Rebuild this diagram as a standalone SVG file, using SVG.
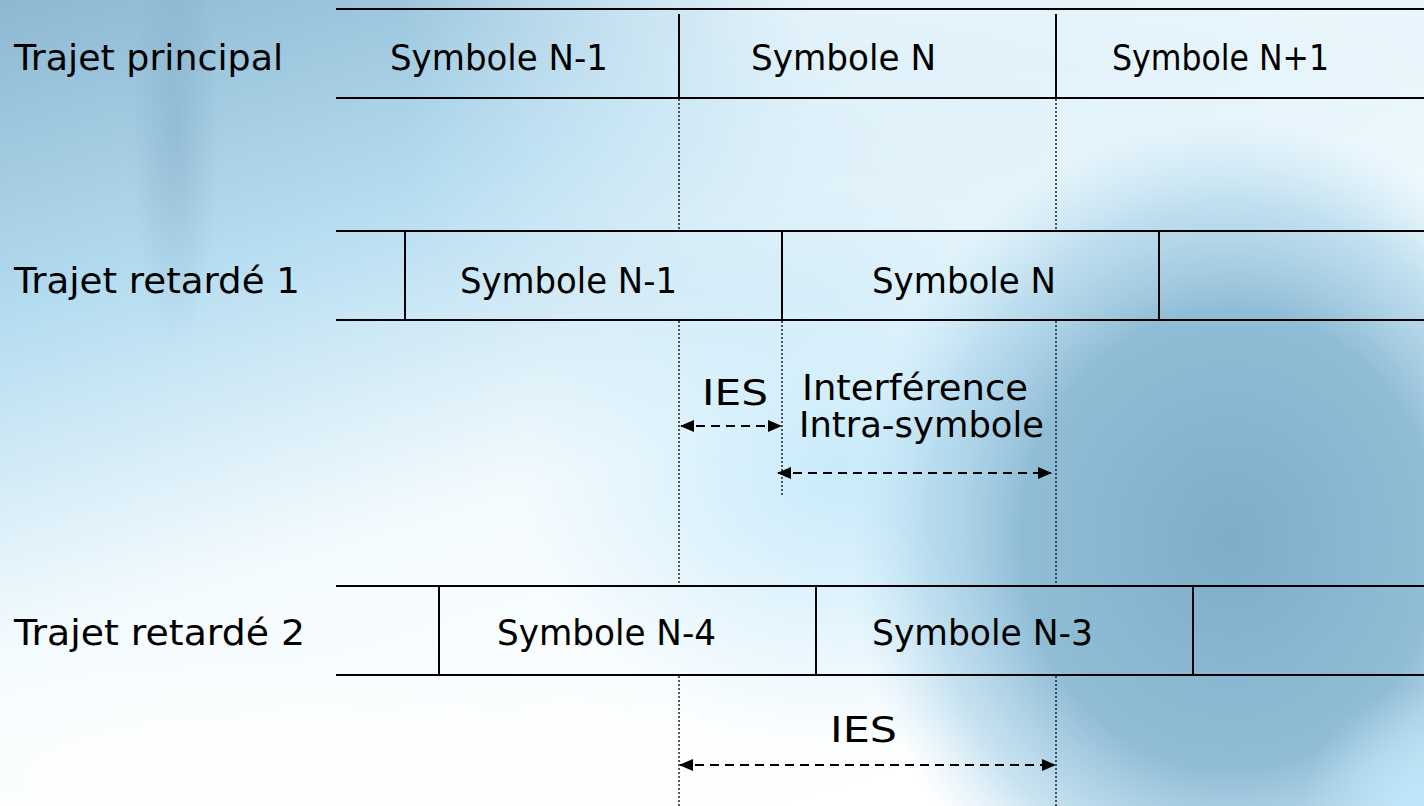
<svg xmlns="http://www.w3.org/2000/svg" width="1424" height="806" viewBox="0 0 1424 806">
<defs>
<linearGradient id="bgBase" x1="0" y1="0" x2="0.55" y2="1">
<stop offset="0" stop-color="#8db8d1"/>
<stop offset="0.3" stop-color="#b4dcf0"/>
<stop offset="0.62" stop-color="#f4fbfe"/>
<stop offset="1" stop-color="#ffffff"/>
</linearGradient>
<linearGradient id="bgTopRight" x1="0" y1="0" x2="0" y2="1">
<stop offset="0" stop-color="#eef8fd" stop-opacity="0.85"/>
<stop offset="0.7" stop-color="#eef8fd" stop-opacity="0.5"/>
<stop offset="1" stop-color="#eef8fd" stop-opacity="0"/>
</linearGradient>
<linearGradient id="bgTopRightH" x1="0" y1="0" x2="1" y2="0">
<stop offset="0" stop-color="#fff" stop-opacity="0"/>
<stop offset="0.4" stop-color="#fff" stop-opacity="1"/>
<stop offset="1" stop-color="#fff" stop-opacity="1"/>
</linearGradient>
<mask id="trMask"><rect x="400" y="0" width="1024" height="320" fill="url(#bgTopRightH)"/></mask>
<radialGradient id="sphere" cx="0.5" cy="0.5" r="0.5">
<stop offset="0" stop-color="#7eadc8"/>
<stop offset="0.55" stop-color="#8bbad4" stop-opacity="0.95"/>
<stop offset="0.8" stop-color="#a3cfe6" stop-opacity="0.6"/>
<stop offset="1" stop-color="#b5ddf1" stop-opacity="0"/>
</radialGradient>
<radialGradient id="glowMid" cx="0.5" cy="0.5" r="0.5">
<stop offset="0" stop-color="#bde6fa"/>
<stop offset="1" stop-color="#bde6fa" stop-opacity="0"/>
</radialGradient>
<radialGradient id="whiteBL" cx="0.5" cy="0.5" r="0.5">
<stop offset="0" stop-color="#ffffff" stop-opacity="0.9"/>
<stop offset="1" stop-color="#ffffff" stop-opacity="0"/>
</radialGradient>
<radialGradient id="streak" cx="0.5" cy="0.4" r="0.5">
<stop offset="0" stop-color="#7fa9c3" stop-opacity="0.45"/>
<stop offset="1" stop-color="#7fa9c3" stop-opacity="0"/>
</radialGradient>
<marker id="ah" markerWidth="14" markerHeight="12" refX="13" refY="6" orient="auto-start-reverse" markerUnits="userSpaceOnUse">
<path d="M0,0 L14,6 L0,12 z" fill="#000"/>
</marker>
<style>
.t{font-family:"Comic Sans MS","DejaVu Sans",sans-serif;font-size:36px;fill:#000;}
.solid{stroke:#000;stroke-width:2;fill:none;}
.dot{stroke:#222;stroke-width:1.5;stroke-dasharray:2 2;fill:none;}
.arr{stroke:#000;stroke-width:2;stroke-dasharray:9 6;fill:none;marker-start:url(#ah);marker-end:url(#ah);}
</style>
</defs>

<g id="background">
<rect x="0" y="0" width="1424" height="806" fill="url(#bgBase)"/>
<rect x="400" y="0" width="1024" height="320" fill="url(#bgTopRight)" mask="url(#trMask)"/>
<ellipse cx="840" cy="470" rx="320" ry="280" fill="url(#glowMid)" opacity="0.8"/>
<ellipse cx="1230" cy="540" rx="380" ry="420" fill="url(#sphere)"/>
<ellipse cx="1424" cy="806" rx="120" ry="120" fill="url(#glowMid)"/>
<ellipse cx="175" cy="170" rx="45" ry="220" fill="url(#streak)"/>
<ellipse cx="260" cy="780" rx="520" ry="140" fill="url(#whiteBL)"/>
</g>

<g id="connectors">
<line class="dot" x1="679" y1="99" x2="679" y2="231"/>
<line class="dot" x1="679" y1="321" x2="679" y2="586"/>
<line class="dot" x1="679" y1="676" x2="679" y2="806"/>
<line class="dot" x1="1056" y1="99" x2="1056" y2="231"/>
<line class="dot" x1="1056" y1="321" x2="1056" y2="586"/>
<line class="dot" x1="1056" y1="676" x2="1056" y2="806"/>
<line class="dot" x1="782" y1="321" x2="782" y2="497"/>
<line class="arr" x1="681" y1="426" x2="781" y2="426"/>
<line class="arr" x1="778" y1="473" x2="1051" y2="473"/>
<line class="arr" x1="680" y1="765" x2="1055" y2="765"/>
</g>

<g id="row-principal">
<line class="solid" x1="336" y1="9" x2="1424" y2="9"/>
<line class="solid" x1="336" y1="98" x2="1424" y2="98"/>
<line class="solid" x1="679" y1="14" x2="679" y2="98"/>
<line class="solid" x1="1056" y1="14" x2="1056" y2="98"/>
<text class="t" x="14" y="70" textLength="269" lengthAdjust="spacingAndGlyphs">Trajet principal</text>
<text class="t" x="390" y="70" textLength="218" lengthAdjust="spacingAndGlyphs">Symbole N-1</text>
<text class="t" x="751" y="70" textLength="185" lengthAdjust="spacingAndGlyphs">Symbole N</text>
<text class="t" x="1112" y="70" textLength="217" lengthAdjust="spacingAndGlyphs">Symbole N+1</text>
</g>

<g id="row-retarde-1">
<line class="solid" x1="336" y1="231" x2="1424" y2="231"/>
<line class="solid" x1="336" y1="320" x2="1424" y2="320"/>
<line class="solid" x1="405" y1="231" x2="405" y2="320"/>
<line class="solid" x1="782" y1="231" x2="782" y2="320"/>
<line class="solid" x1="1159" y1="231" x2="1159" y2="320"/>
<text class="t" x="14" y="293" textLength="286" lengthAdjust="spacingAndGlyphs">Trajet retardé 1</text>
<text class="t" x="460" y="293" textLength="217" lengthAdjust="spacingAndGlyphs">Symbole N-1</text>
<text class="t" x="872" y="293" textLength="184" lengthAdjust="spacingAndGlyphs">Symbole N</text>
</g>

<g id="row-retarde-2">
<line class="solid" x1="336" y1="586" x2="1424" y2="586"/>
<line class="solid" x1="336" y1="675" x2="1424" y2="675"/>
<line class="solid" x1="439" y1="586" x2="439" y2="675"/>
<line class="solid" x1="816" y1="586" x2="816" y2="675"/>
<line class="solid" x1="1193" y1="586" x2="1193" y2="675"/>
<text class="t" x="14" y="645" textLength="291" lengthAdjust="spacingAndGlyphs">Trajet retardé 2</text>
<text class="t" x="497" y="645" textLength="219" lengthAdjust="spacingAndGlyphs">Symbole N-4</text>
<text class="t" x="872" y="645" textLength="221" lengthAdjust="spacingAndGlyphs">Symbole N-3</text>
</g>

<g id="label-ies-1">
<text class="t" x="702" y="405" textLength="66" lengthAdjust="spacingAndGlyphs">IES</text>
</g>
<g id="label-interference">
<text class="t" x="802" y="400" textLength="226" lengthAdjust="spacingAndGlyphs">Interférence</text>
<text class="t" x="799" y="437" textLength="245" lengthAdjust="spacingAndGlyphs">Intra-symbole</text>
</g>
<g id="label-ies-2">
<text class="t" x="830" y="742" textLength="67" lengthAdjust="spacingAndGlyphs">IES</text>
</g>
</svg>
